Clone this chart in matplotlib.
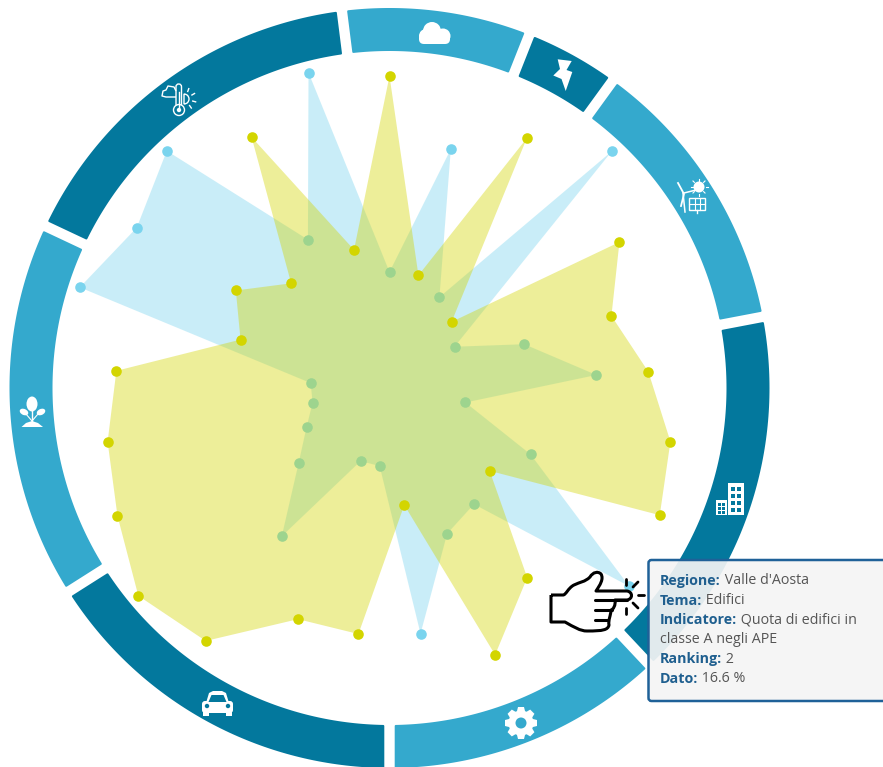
# radar chart of regional indicators with a themed ring and a tooltip
import numpy as np
import matplotlib
matplotlib.use('Agg')
import matplotlib.pyplot as plt
from matplotlib.patches import Circle, Polygon, Rectangle, FancyBboxPatch, Wedge, Ellipse, PathPatch
from matplotlib.path import Path

# scores of the 25 indicators, clockwise from the top
blue_scores = [35.7, 75.9, 31.9, 99.9, 23.7, 43.6, 63.8, 23.8, 48.0, 95.7, 44.2, 48.2, 76.2,
               24.2, 24.2, 56.4, 36.3, 28.2, 24.1, 24.3, 100.2, 92.1, 100.1, 52.1, 100.2]
yellow_scores = [96.0, 35.8, 87.7, 27.9, 83.8, 71.8, 79.8, 88.0, 91.9, 40.0, 72.1, 88.3, 36.3,
                 76.3, 76.5, 96.2, 100.3, 92.5, 88.3, 84.2, 48.2, 56.0, 44.2, 88.1, 43.9]

# number of indicators in each theme, starting with the cloud sector
theme_sizes = [2, 1, 3, 4, 3, 4, 4, 4]
theme_colors = ['#34a9cd', '#03789d', '#34a9cd', '#03789d', '#34a9cd', '#03789d', '#34a9cd', '#03789d']

# tooltip lines
tooltip_lines = [("Regione:", " Valle d'Aosta"), ("Tema:", " Edifici"),
                 ("Indicatore:", " Quota di edifici in"), ("", "classe A negli APE"),
                 ("Ranking:", " 2"), ("Dato:", " 16.6 %")]

PX_PER_SCORE = 3.25
W, H = 883, 767
CX, CY, R_OUT, R_IN = 389.5, 388, 380, 337

BLUE = '#7ad4ee'
YELLOW = '#d3d500'
FONT = 'Open Sans'

fig = plt.figure(figsize=(W / 100, H / 100), dpi=100)

# 1.polar axes, placed so one score unit is PX_PER_SCORE pixels
ax = fig.add_axes([(CX - R_OUT) / W, 1 - (CY + R_OUT) / H, 2 * R_OUT / W, 2 * R_OUT / H], projection='polar')
ax.set_theta_zero_location('N')
ax.set_theta_direction(-1)
ax.set_ylim(0, R_OUT / PX_PER_SCORE)
ax.axis('off')

n = len(blue_scores)
theta = np.arange(n) * 2 * np.pi / n
step = 2 * np.pi / n

# 2.ring sectors, gap of constant width, corners rounded by the stroke
start = -step / 2
for size, color in zip(theme_sizes, theme_colors):
    end = start + size * step
    arcs = []
    for r, sign in [(R_OUT - 1, 1), (R_IN + 1, -1)]:
        off = np.arcsin(6.2 / r)
        t = np.linspace(start + off, end - off, 80)
        arcs.append((t if sign > 0 else t[::-1], np.full(80, r / PX_PER_SCORE)))
    ax.fill(np.r_[arcs[0][0], arcs[1][0]], np.r_[arcs[0][1], arcs[1][1]], color=color,
            lw=1.44, joinstyle='round', clip_on=False, zorder=1)
    start = end

# 3.the two series: yellow is painted over the blue one
ax.fill(theta, blue_scores, color=BLUE, alpha=0.4, lw=0, zorder=2)
ax.scatter(theta, blue_scores, s=58, color=BLUE, lw=0, clip_on=False, zorder=3)
ax.fill(theta, yellow_scores, color=YELLOW, alpha=0.4, lw=0, zorder=4)
ax.scatter(theta, yellow_scores, s=58, color=YELLOW, lw=0, clip_on=False, zorder=5)

# 4.overlay in pixel coordinates for icons, hand and tooltip
ov = fig.add_axes([0, 0, 1, 1])
ov.set_xlim(0, W)
ov.set_ylim(H, 0)
ov.axis('off')
ov.patch.set_alpha(0)

WH = 'white'
DARK = '#03789d'
LIGHT = '#34a9cd'

# cloud
for c, r in [((426, 36), 7), ((432, 31), 9), ((443, 36), 7.5)]:
    ov.add_patch(Circle(c, r, fc=WH, lw=0))
ov.add_patch(FancyBboxPatch((419, 33), 31, 11, boxstyle='round,pad=0,rounding_size=5', fc=WH, lw=0))

# bolt
ov.add_patch(Polygon([(557.7, 59.3), (571.7, 61), (566.5, 70), (572.3, 72), (565.7, 91),
                      (561.5, 79), (553.3, 75.5), (560, 69)], fc=WH, lw=0))

# wind turbine and solar panel
ov.plot([683, 685], [193, 212], color=WH, lw=1.1)
ov.plot([678, 684, 681], [183, 194, 206], color=WH, lw=1.3)
ov.plot([684, 696], [193, 190], color=WH, lw=1.1)
ov.add_patch(Circle((699, 187), 5.5, fc=WH, lw=0))
for a in np.arange(0, 360, 45):
    ca, sa = np.cos(np.radians(a)), np.sin(np.radians(a))
    ov.plot([699 + 6.5 * ca, 699 + 8.5 * ca], [187 + 6.5 * sa, 187 + 8.5 * sa], color=WH, lw=0.8)
ov.add_patch(Rectangle((689, 198), 16, 12, fc='none', ec=WH, lw=1))
ov.plot([694.5, 694.5], [198, 210], color=WH, lw=0.8)
ov.plot([699.5, 699.5], [198, 210], color=WH, lw=0.8)
ov.plot([689, 705], [204, 204], color=WH, lw=0.8)
ov.plot([697, 697], [210, 213], color=WH, lw=1)

# buildings
ov.add_patch(Rectangle((728, 483), 16, 32, fc=WH, lw=0))
ov.add_patch(Rectangle((716, 500), 11, 15, fc=WH, lw=0))
for x0, y0, nx, ny, s, dx, dy in [(731, 487, 2, 4, 4, 6, 7), (718, 503, 2, 3, 2.5, 4, 4)]:
    for i in range(nx):
        for j in range(ny):
            ov.add_patch(Rectangle((x0 + i * dx, y0 + j * dy), s, s, fc=DARK, lw=0))

# gear
ov.add_patch(Circle((521, 723), 12.5, fc=WH, lw=0))
for a in np.arange(0, 360, 45):
    ca, sa = np.cos(np.radians(a)), np.sin(np.radians(a))
    ov.add_patch(Polygon([(521 + 10 * ca - 4.5 * sa, 723 + 10 * sa + 4.5 * ca),
                          (521 + 16 * ca - 3 * sa, 723 + 16 * sa + 3 * ca),
                          (521 + 16 * ca + 3 * sa, 723 + 16 * sa - 3 * ca),
                          (521 + 10 * ca + 4.5 * sa, 723 + 10 * sa - 4.5 * ca)], fc=WH, joinstyle='round', lw=0))
ov.add_patch(Circle((521, 723), 5.5, fc=LIGHT, lw=0))

# car
ov.add_patch(FancyBboxPatch((202, 701), 31, 12, boxstyle='round,pad=0,rounding_size=3', fc=WH, lw=0))
ov.add_patch(Polygon([(206, 703), (209, 693), (213, 691), (222, 691), (226, 693), (229, 703)], fc=WH, lw=0))
ov.add_patch(Polygon([(208.5, 702), (211.5, 695), (223.5, 695), (226.5, 702)], fc=DARK, lw=0))
ov.add_patch(Rectangle((203, 712), 6, 4, fc=WH, lw=0))
ov.add_patch(Rectangle((226, 712), 6, 4, fc=WH, lw=0))
ov.add_patch(Circle((207, 706), 2.2, fc=DARK, lw=0))
ov.add_patch(Circle((228, 706), 2.2, fc=DARK, lw=0))

# plant
ov.add_patch(Ellipse((32, 404), 11, 15, fc=WH, lw=0))
ov.add_patch(Ellipse((24, 412), 9, 6, angle=25, fc=WH, lw=0))
ov.add_patch(Ellipse((41, 412), 9, 6, angle=-25, fc=WH, lw=0))
ov.plot([32, 32], [408, 422], color=WH, lw=1)
ov.plot([26, 32, 38], [414, 421, 414], color=WH, lw=0.8)
ov.add_patch(Polygon([(21.5, 427), (26, 423), (32, 421), (38, 423), (43, 427)], fc=WH, lw=0))

# thermometer with cloud and sun
ov.add_patch(FancyBboxPatch((176, 84), 5.5, 23, boxstyle='round,pad=0,rounding_size=2.7', fc='none', ec=WH, lw=1))
ov.add_patch(Circle((179, 110), 5.5, fc=DARK, ec=WH, lw=1, zorder=3))
ov.add_patch(Circle((179, 110), 2.2, fc=WH, lw=0, zorder=4))
ov.plot([179, 179], [92, 108], color=WH, lw=1, zorder=4)
cloud_path = Path([(176, 97), (166, 97), (162, 96), (163, 91), (166, 90), (168, 86), (174, 87), (176, 91)],
                  [Path.MOVETO] + [Path.LINETO] * 7)
ov.add_patch(PathPatch(cloud_path, fc='none', ec=WH, lw=1, joinstyle='round'))
ov.add_patch(Wedge((184, 99), 5, -90, 90, fc='none', ec=WH, lw=1))
for a in [-70, -30, 15, 55]:
    ca, sa = np.cos(np.radians(a)), np.sin(np.radians(a))
    ov.plot([185 + 8 * ca, 185 + 11 * ca], [99 + 8 * sa, 99 + 11 * sa], color=WH, lw=1)

# 5.tooltip box
ov.add_patch(FancyBboxPatch((648.5, 560), 260, 141, boxstyle='round,pad=0,rounding_size=3',
                            fc=(0.96, 0.96, 0.96, 0.92), ec='#1f6198', lw=1.8, zorder=6))
fig.canvas.draw()
renderer = fig.canvas.get_renderer()
for i, (head, rest) in enumerate(tooltip_lines):
    y = 581 + i * 19.6
    x = 660
    if head:
        t = ov.text(x, y, head, fontsize=10.3, family=FONT, weight='bold', color='#1f5f8f', va='center', zorder=7)
        x += t.get_window_extent(renderer).width
    ov.text(x, y, rest, fontsize=10.3, family=FONT, color='#555555', va='center', zorder=7)

# 6.hand pointer, outline smoothed with curves
hand_verts = [(551, 595), (563, 595), (566, 595), (568, 588), (574, 585), (580, 582), (585, 582), (590, 577),
              (593, 572), (598, 571), (601, 574), (604, 579), (600, 585), (596, 591), (627, 591), (633, 592),
              (633, 599), (627, 600), (615, 600), (616, 605), (613, 610), (611, 610), (611, 615), (608, 620),
              (609, 625), (608, 630), (603, 631), (587, 631), (580, 631), (574, 627), (565, 622), (551, 622), (551, 595)]
hand_codes = [Path.MOVETO, Path.LINETO, Path.CURVE4, Path.CURVE4, Path.CURVE4, Path.CURVE4, Path.CURVE4, Path.CURVE4,
              Path.CURVE4, Path.CURVE4, Path.CURVE4, Path.CURVE4, Path.CURVE4, Path.LINETO, Path.LINETO, Path.CURVE4,
              Path.CURVE4, Path.CURVE4, Path.LINETO, Path.CURVE4, Path.CURVE4, Path.LINETO, Path.CURVE4, Path.CURVE4,
              Path.CURVE4, Path.CURVE4, Path.CURVE4, Path.LINETO, Path.CURVE4, Path.CURVE4, Path.CURVE4, Path.LINETO, Path.LINETO]
ov.add_patch(PathPatch(Path(hand_verts, hand_codes), fc=WH, ec='black', lw=2.2, joinstyle='round', zorder=5.5))
for seg in [([595, 627], [600, 600]), ([595, 612], [610, 610]), ([595, 607], [620, 620])]:
    ov.plot(seg[0], seg[1], color='black', lw=2.2, solid_capstyle='round', zorder=5.6)
for seg in [([626, 626], [579, 585]), ([633, 638], [587, 582]), ([638, 644], [595, 595]),
            ([633, 638], [603, 608]), ([626, 626], [608, 614])]:
    ov.plot(seg[0], seg[1], color='black', lw=2, solid_capstyle='round', zorder=5.6)

fig.savefig('out.png', dpi=100)
